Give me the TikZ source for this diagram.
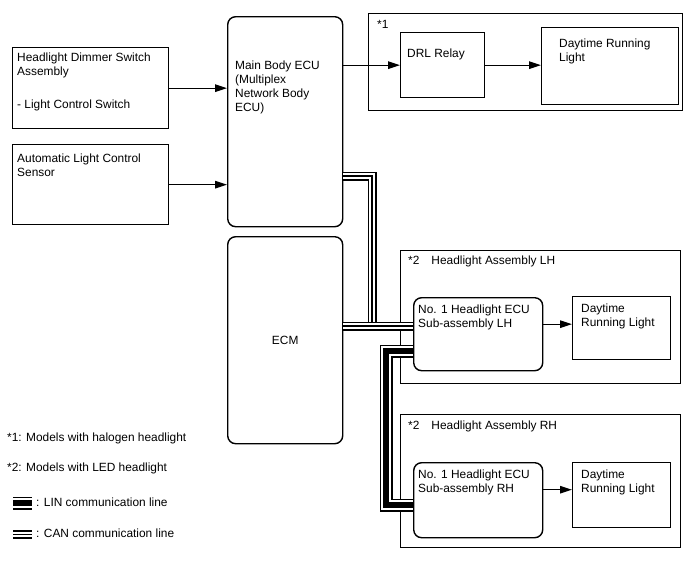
\documentclass[tikz,border=0pt]{standalone}
\usepackage{fontspec}
\setmainfont{Liberation Sans}
\usetikzlibrary{arrows.meta}

\begin{document}
\begin{tikzpicture}[x=1pt, y=-1pt,
  box/.style={draw, line width=1.4pt, anchor=north west, inner sep=0pt},
  ecubox/.style={box, rounded corners=8pt},
  txt/.style={anchor=north west, align=left, inner sep=0pt, font=\fontsize{11.9}{14}\selectfont},
  lbl/.style={anchor=west, inner sep=0pt, font=\fontsize{11.9}{14}\selectfont},
  arr/.style={line width=1.4pt, -{Triangle[length=12pt,width=7.5pt]}},
  can/.style={draw=black, line width=9pt, postaction={draw=white, line width=5.4pt}, postaction={draw=black, line width=1.8pt}},
  lin/.style={draw=black, line width=13pt, postaction={draw=white, line width=10pt}, postaction={draw=black, line width=6pt}}]
 \useasboundingbox (0,0) rectangle (688,560);

 % switch and sensor
 \node[box, minimum width=156pt, minimum height=81pt] (dimmer) at (12,47) {};
 \node[txt] (dimmertxt) at (17,52.5) {Headlight Dimmer Switch\\Assembly\\[19pt]- Light Control Switch};
 \node[box, minimum width=156pt, minimum height=80pt] (sensor) at (12,144) {};
 \node[txt] (sensortxt) at (17,153.5) {Automatic Light Control\\Sensor};

 % ECUs
 \node[ecubox, minimum width=115pt, minimum height=210pt] (mainecu) at (227,16) {};
 \node[txt] (mainecutxt) at (235,60.5) {Main Body ECU\\(Multiplex\\Network Body\\ECU)};
 \node[ecubox, minimum width=115pt, minimum height=207pt, font=\fontsize{11.9}{14}\selectfont] (ecm) at (227,236) {ECM};

 % *1
 \node[box, minimum width=314pt, minimum height=97pt] (halogen) at (368,13) {};
 \node[txt] (halogentxt) at (377,20.5) {*1};
 \node[box, minimum width=84pt, minimum height=65pt] (relay) at (400,32) {};
 \node[txt] (relaytxt) at (407,48.5) {DRL Relay};
 \node[box, minimum width=137pt, minimum height=77pt] (drl) at (541,27) {};
 \node[txt] (drltxt) at (559,38.5) {Daytime Running\\Light};

 % *2 LH
 \node[box, minimum width=280pt, minimum height=133pt] (assyl) at (400,250) {};
 \node[txt] (assyltxt) at (408,255.5) {*2\hspace{12pt}Headlight Assembly LH};
 \node[ecubox, minimum width=129pt, minimum height=73pt] (hlecul) at (413,297) {};
 \node[txt] (hlecultxt) at (418,304.5) {No. 1 Headlight ECU\\Sub-assembly LH};
 \node[box, minimum width=98pt, minimum height=63pt] (drll) at (572,296) {};
 \node[txt] (drlltxt) at (581,303.5) {Daytime\\Running Light};

 % *2 RH
 \node[box, minimum width=280pt, minimum height=133pt] (assyr) at (400,414) {};
 \node[txt] (assyrtxt) at (408,420.5) {*2\hspace{12pt}Headlight Assembly RH};
 \node[ecubox, minimum width=129pt, minimum height=75pt] (hlecur) at (413,462) {};
 \node[txt] (hlecurtxt) at (418,469.5) {No. 1 Headlight ECU\\Sub-assembly RH};
 \node[box, minimum width=98pt, minimum height=65pt] (drlr) at (572,462) {};
 \node[txt] (drlrtxt) at (581,469.5) {Daytime\\Running Light};

 % signals
 \draw[arr] (dimmer) -- (dimmer -| mainecu.west);
 \draw[arr] (sensor) -- (sensor -| mainecu.west);
 \draw[arr] (mainecu.east |- relay.west) -- (relay.west);
 \draw[arr] (relay.east) -- (relay.east -| drl.west);
 \draw[arr] ([yshift=4pt]drll.west -| hlecul.east) -- ([yshift=4pt]drll.west);
 \draw[arr] ([yshift=5.5pt]drlr.west -| hlecur.east) -- ([yshift=5.5pt]drlr.west);

 % CAN
 \coordinate (canbend) at (372,176);
 \coordinate (canjoin) at (372,326);
 \draw[can] (mainecu.east |- canbend) -- (canbend) -- (canjoin);
 \draw[can] (ecm.east |- canjoin) -- (hlecul.west |- canjoin);

 % LIN
 \coordinate (lintop) at (386,351);
 \coordinate (linbot) at (386,505);
 \draw[lin] (hlecul.west |- lintop) -- (lintop) -- (linbot) -- (hlecur.west |- linbot);

 % notes
 \node[lbl] (note1) at (7,438) {*1: Models with halogen headlight};
 \node[lbl] (note2) at (7,468) {*2: Models with LED headlight};
 \draw[lin] (13,503) -- (32,503);
 \node[lbl] (notelin) at (36,502) {: LIN communication line};
 \draw[can] (13,534.5) -- (32,534.5);
 \node[lbl] (notecan) at (36,533.5) {: CAN communication line};
\end{tikzpicture}
\end{document}
